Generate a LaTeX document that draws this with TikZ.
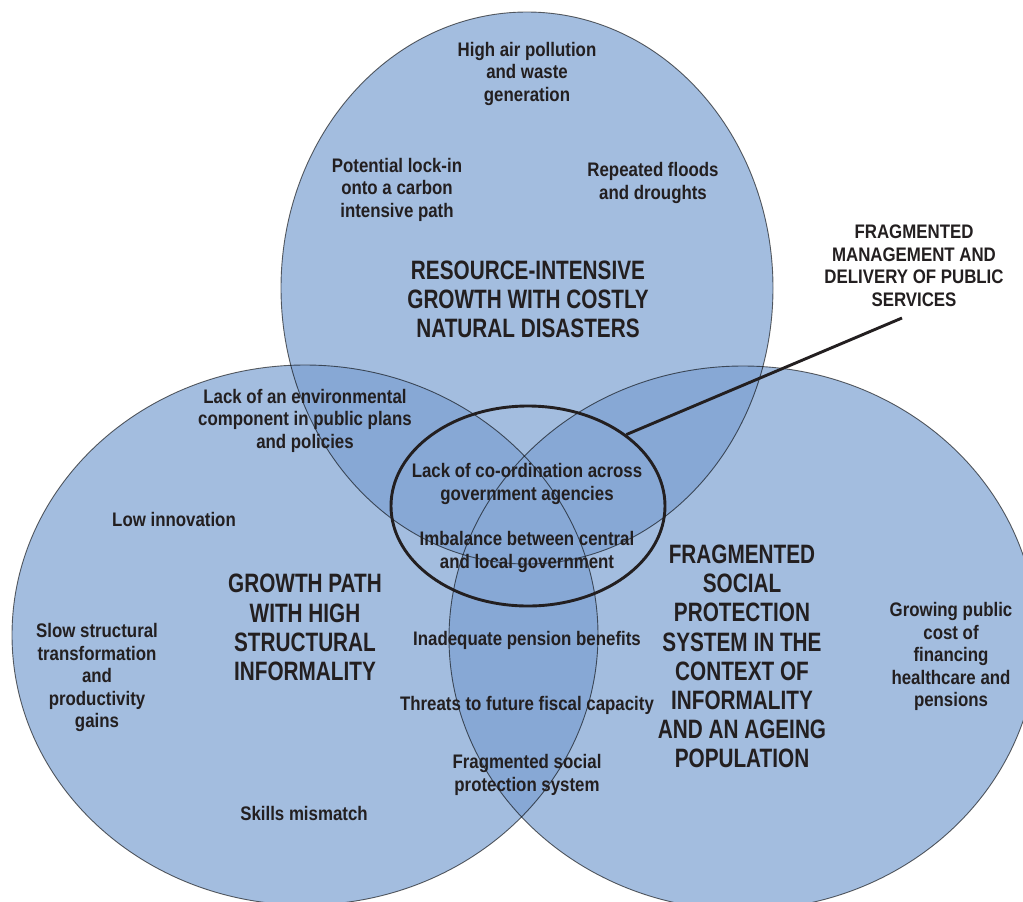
\documentclass[tikz,border=0pt]{standalone}
\usepackage{fontspec}
\setmainfont{Liberation Sans}[FakeStretch=0.86]
\newfontfamily\headfont{Liberation Sans}[FakeStretch=0.78]
\usetikzlibrary{shapes.geometric, positioning}
\definecolor{venn}{HTML}{A3BDDF}
\definecolor{vennover}{HTML}{87A8D5}
\definecolor{ink}{HTML}{231F20}

\begin{document}
\begin{tikzpicture}[x=0.5pt, y=-0.5pt,
    item/.style={align=center, font=\fontsize{9.8}{11.25}\selectfont\bfseries, text=ink, inner sep=0pt, yshift=-1.4pt},
    head/.style={align=center, font=\headfont\fontsize{13.3}{14.6}\selectfont\bfseries, text=ink, inner sep=0pt, yshift=-0.8pt},
    rim/.style={draw=black, draw opacity=0.6, line width=0.45pt},
    leader/.style={draw=ink, line width=1.45pt}]
    \useasboundingbox (0,0) rectangle (1023,901);

    \coordinate (res) at (527,288);
    \coordinate (grow) at (305,635);
    \coordinate (soc) at (743,638);

    % the three sets
    \fill[venn] (res) ellipse [x radius=246, y radius=276];
    \fill[venn] (grow) ellipse [x radius=293, y radius=270];
    \fill[venn] (soc) ellipse [x radius=294, y radius=272];

    % overlaps
    \begin{scope}
        \clip (res) ellipse [x radius=246, y radius=276];
        \fill[vennover] (grow) ellipse [x radius=293, y radius=270];
        \fill[vennover] (soc) ellipse [x radius=294, y radius=272];
    \end{scope}
    \begin{scope}
        \clip (grow) ellipse [x radius=293, y radius=270];
        \fill[vennover] (soc) ellipse [x radius=294, y radius=272];
    \end{scope}

    \draw[rim] (res) ellipse [x radius=246, y radius=276];
    \draw[rim] (grow) ellipse [x radius=293, y radius=270];
    \draw[rim] (soc) ellipse [x radius=294, y radius=272];

    % common core
    \node[ellipse, draw=ink, line width=1.45pt, minimum width=137pt, minimum height=100pt, inner sep=0pt] (core) at (528,506) {};
    \coordinate (calltip) at (902,318);
    \draw[leader] (core.36) -- (calltip);

    \node[item] (callout) at (914,263) {FRAGMENTED\\MANAGEMENT AND\\DELIVERY OF PUBLIC\\SERVICES};

    % resource-intensive growth
    \node[item] (pollution) at (527,71) {High air pollution\\and waste\\generation};
    \node[item] (lockin) at (397,187) {Potential lock-in\\onto a carbon\\intensive path};
    \node[item] (floods) at (653,180) {Repeated floods\\and droughts};
    \node[head] (reshead) at (528,298) {RESOURCE-INTENSIVE\\GROWTH WITH COSTLY\\NATURAL DISASTERS};

    % informal growth path
    \node[item] (envcomp) at (305,418) {Lack of an environmental\\component in public plans\\and policies};
    \node[item] (innov) at (174,517) {Low innovation};
    \node[head] (growhead) at (305,626) {GROWTH PATH\\WITH HIGH\\STRUCTURAL\\INFORMALITY};
    \node[item] (slow) at (97,675) {Slow structural\\transformation\\and\\productivity\\gains};
    \node[item] (skills) at (304,811) {Skills mismatch};

    % centre
    \node[item] (coord) at (527,481) {Lack of co-ordination across\\government agencies};
    \node[item] (imbal) at (527,549) {Imbalance between central\\and local government};
    \node[item] (pension) at (527,638) {Inadequate pension benefits};
    \node[item] (fiscal) at (527,703) {Threats to future fiscal capacity};
    \node[item] (fragsoc) at (527,772) {Fragmented social\\protection system};

    % social protection
    \node[head] (sochead) at (742,655) {FRAGMENTED\\SOCIAL\\PROTECTION\\SYSTEM IN THE\\CONTEXT OF\\INFORMALITY\\AND AN AGEING\\POPULATION};
    \node[item] (cost) at (951,654) {Growing public\\cost of\\financing\\healthcare and\\pensions};
\end{tikzpicture}
\end{document}
